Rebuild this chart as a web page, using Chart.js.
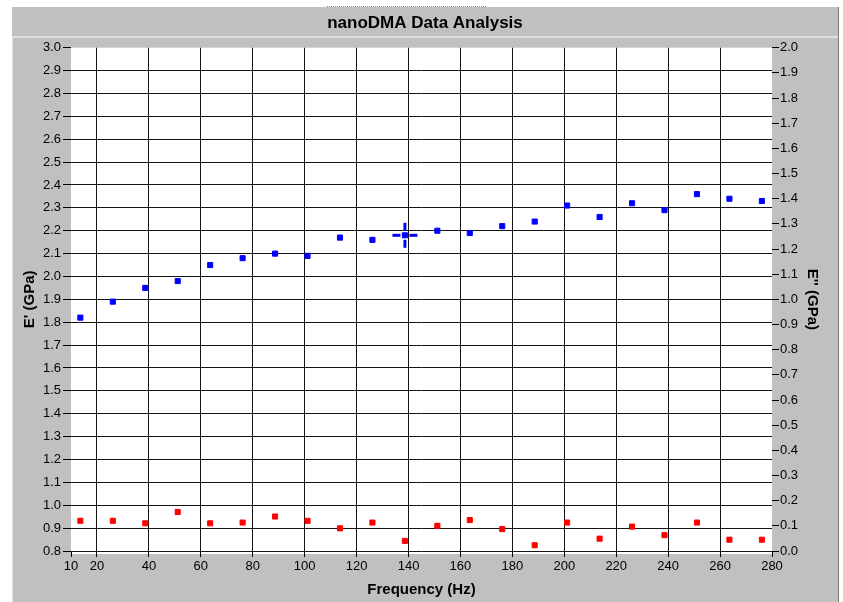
<!DOCTYPE html>
<html>
<head>
<meta charset="utf-8">
<title>nanoDMA Data Analysis</title>
<script src="https://cdn.jsdelivr.net/npm/chart.js@4.4.1/dist/chart.umd.min.js"></script>
<style>
  html, body { margin: 0; padding: 0; background: #fff; }
  #wrap { width: 843px; height: 602px; }
</style>
</head>
<body>
<div id="wrap"><canvas id="dma-chart" width="843" height="602"></canvas></div>
<script>
// ── DATA ──
const FREQ_HZ = [13.6, 26.1, 38.6, 51.1, 63.6, 76.1, 88.6, 101.1, 113.6, 126.1, 138.6,
                 151.1, 163.6, 176.1, 188.6, 201.1, 213.6, 226.1, 238.6, 251.1, 263.6, 276.1];
// E' storage modulus (left axis, GPa)
const E_STORAGE = [1.82, 1.89, 1.95, 1.98, 2.05, 2.08, 2.10, 2.09, 2.17, 2.16, 2.18,
                   2.20, 2.19, 2.22, 2.24, 2.31, 2.26, 2.32, 2.29, 2.36, 2.34, 2.33];
// E'' loss modulus (right axis, GPa)
const E_LOSS = [0.12, 0.12, 0.11, 0.155, 0.11, 0.113, 0.137, 0.12, 0.09, 0.113, 0.04,
                0.10, 0.123, 0.087, 0.023, 0.113, 0.049, 0.097, 0.063, 0.113, 0.045, 0.045];
// cursor sits on the 11th point
const CURSOR_FREQ = [138.6];
const CURSOR_VAL  = [2.18];

const X_TICKS       = [10, 20, 40, 60, 80, 100, 120, 140, 160, 180, 200, 220, 240, 260, 280];
const Y_LEFT_TICKS  = [0.8, 0.9, 1.0, 1.1, 1.2, 1.3, 1.4, 1.5, 1.6, 1.7, 1.8, 1.9,
                       2.0, 2.1, 2.2, 2.3, 2.4, 2.5, 2.6, 2.7, 2.8, 2.9, 3.0];
const Y_RIGHT_TICKS = [0.0, 0.1, 0.2, 0.3, 0.4, 0.5, 0.6, 0.7, 0.8, 0.9, 1.0,
                       1.1, 1.2, 1.3, 1.4, 1.5, 1.6, 1.7, 1.8, 1.9, 2.0];

const FONT = 'Arial, "Liberation Sans", sans-serif';
const GRID = '#141414';
const PANEL = '#c0c0c0';

// ── CURSOR GLYPH (blue crosshair) ──
function makeCursor() {
  const c = document.createElement('canvas');
  c.width = 27; c.height = 27;
  const g = c.getContext('2d');
  g.fillStyle = '#0000ff';
  g.fillRect(1, 12, 8, 3);   // left arm
  g.fillRect(18, 12, 8, 3);  // right arm
  g.fillRect(12, 1, 3, 8);   // top arm
  g.fillRect(12, 18, 3, 8);  // bottom arm
  return c;
}

// ── PANEL BACKGROUND ──
const panelPlugin = {
  id: 'panel',
  beforeDraw(chart) {
    const { ctx, chartArea: a } = chart;
    ctx.save();
    ctx.fillStyle = '#fff';
    ctx.fillRect(0, 0, chart.width, chart.height);
    ctx.fillStyle = PANEL;
    ctx.fillRect(12, 7, 826, 595);
    // right frame edge
    ctx.fillStyle = '#7a7a7a';
    ctx.fillRect(838, 7, 1, 595);
    // light bevel round the lower panel
    ctx.fillStyle = '#dedede';
    ctx.fillRect(12, 36, 826, 2);
    ctx.fillRect(12, 36, 1, 566);
    // dotted selection line above the title
    ctx.strokeStyle = '#8a8a8a';
    ctx.setLineDash([1, 1]);
    ctx.beginPath();
    ctx.moveTo(327, 6.5); ctx.lineTo(486, 6.5);
    ctx.stroke();
    ctx.setLineDash([]);
    // white plot area
    ctx.fillStyle = '#fff';
    ctx.fillRect(a.left, a.top, a.right - a.left, a.bottom - a.top + 3);
    ctx.restore();
  }
};

function fixedTicks(list) {
  return scale => { scale.ticks = list.map(v => ({ value: v })); };
}

new Chart(document.getElementById('dma-chart'), {
  type: 'scatter',
  data: {
    datasets: [
      {
        label: 'cursor',
        data: CURSOR_FREQ.map((f, i) => ({ x: f, y: CURSOR_VAL[i] })),
        yAxisID: 'y',
        pointStyle: makeCursor(),
        pointRadius: 13,
      },
      {
        label: "E'",
        data: FREQ_HZ.map((f, i) => ({ x: f, y: E_STORAGE[i] })),
        yAxisID: 'y',
        pointStyle: 'rect',
        pointRadius: 3.6,
        borderWidth: 1,
        backgroundColor: '#0000ff',
        borderColor: '#0000ff',
      },
      {
        label: "E''",
        data: FREQ_HZ.map((f, i) => ({ x: f, y: E_LOSS[i] })),
        yAxisID: 'y2',
        pointStyle: 'rect',
        pointRadius: 3.6,
        borderWidth: 1,
        backgroundColor: '#ff0000',
        borderColor: '#ff0000',
      },
    ]
  },
  options: {
    responsive: false,
    animation: false,
    devicePixelRatio: 1,
    layout: { padding: { left: 12, right: 5, top: 10, bottom: 0 } },
    plugins: {
      legend: { display: false },
      tooltip: { enabled: false },
      title: {
        display: true,
        text: 'nanoDMA Data Analysis',
        color: '#000',
        font: { family: FONT, size: 17, weight: 'bold' },
        padding: { top: 3, bottom: 14.3 },
      },
    },
    scales: {
      x: {
        type: 'linear',
        position: 'bottom',
        min: 10, max: 280,
        afterBuildTicks: fixedTicks(X_TICKS),
        afterFit: s => { s.height = 51; },
        border: { display: false },
        grid: {
          color: c => (c.tick && (c.tick.value === 10 || c.tick.value === 280)) ? 'rgba(0,0,0,0)' : GRID,
          tickColor: '#000',
          tickLength: 6,
          lineWidth: 1,
        },
        ticks: {
          color: '#000', font: { family: FONT, size: 13 }, padding: 2,
          maxRotation: 0, autoSkip: false,
        },
        title: {
          display: true, text: 'Frequency (Hz)', color: '#000',
          font: { family: FONT, size: 15, weight: 'bold' },
          padding: { top: 2, bottom: 3 },
        },
      },
      y: {
        type: 'linear',
        position: 'left',
        min: 0.8, max: 3.0,
        afterBuildTicks: fixedTicks(Y_LEFT_TICKS),
        afterFit: s => { s.width = 59; },
        border: { display: false },
        grid: {
          color: c => (c.tick && c.tick.value === 3.0) ? 'rgba(0,0,0,0)' : GRID,
          tickColor: '#000',
          tickLength: 8,
          lineWidth: 1,
        },
        ticks: {
          color: '#000', font: { family: FONT, size: 13 }, padding: 2,
          callback: v => v.toFixed(1),
        },
        title: {
          display: true, text: "E' (GPa)", color: '#000',
          font: { family: FONT, size: 15, weight: 'bold' },
          padding: { top: 9, bottom: 0 },
        },
      },
      y2: {
        type: 'linear',
        position: 'right',
        min: 0.0, max: 2.0,
        afterBuildTicks: fixedTicks(Y_RIGHT_TICKS),
        afterFit: s => { s.width = 66; },
        border: { display: false },
        grid: {
          drawOnChartArea: false,
          color: '#000',
          tickLength: 7,
          lineWidth: 1,
        },
        ticks: {
          color: '#000', font: { family: FONT, size: 13 }, padding: 1,
          callback: v => v.toFixed(1),
        },
        title: {
          display: true, text: "E'' (GPa)", color: '#000',
          font: { family: FONT, size: 15, weight: 'bold' },
          padding: { top: 17, bottom: 0 },
        },
      },
    }
  },
  plugins: [panelPlugin],
});
</script>
</body>
</html>
